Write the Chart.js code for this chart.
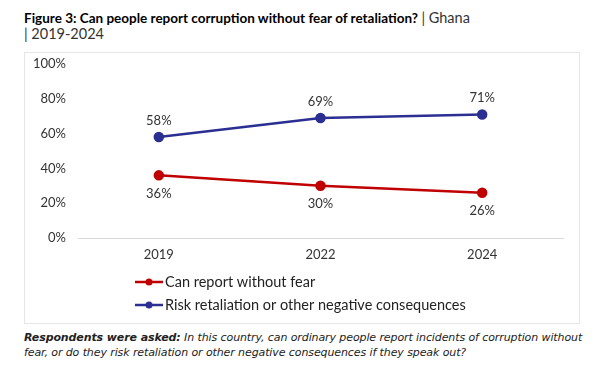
<!DOCTYPE html>
<html lang="en">
<head>
<meta charset="UTF-8">
<title>Figure 3</title>
<script src="https://cdn.jsdelivr.net/npm/chart.js"></script>
<style>
    body{ margin:0; background:#fff; font-family:"Lato", "Liberation Sans", sans-serif; color:#1a1a1a; }
    .title{ position:absolute; left:24px; top:10px; font-size:13.5px; line-height:16px; color:#000; }
    .title b{ font-weight:700; }
    .title span{ color:#333; font-size:14.5px; }
    .box{ position:absolute; left:24px; top:52px; width:554px; height:270px; border:1px solid #e6e6e6; }
    .note{ position:absolute; left:24px; top:330px; font-family:"DejaVu Sans", sans-serif; font-size:11px; line-height:15px; font-style:italic; color:#222; letter-spacing:-0.1px; }
</style>
</head>
<body>
<div class="title"><b>Figure 3: Can people report corruption without fear of retaliation?</b> <span>| Ghana<br>| 2019-2024</span></div>
<div class="box"><canvas id="myChart" width="554" height="270"></canvas></div>
<div class="note"><b>Respondents were asked:</b> In this country, can ordinary people report incidents of corruption without<br>fear, or do they risk retaliation or other negative consequences if they speak out?</div>
<script>
    const years = ['2019', '2022', '2024'];
    const canReport = [36, 30, 26];
    const riskRetaliation = [58, 69, 71];
    const seriesNames = ['Can report without fear', 'Risk retaliation or other negative consequences'];
    const red = '#c00000';
    const blue = '#2b2f92';

    // labels above blue points, below red points
    const valueLabels = {
        id: 'valueLabels',
        afterDatasetsDraw(chart){
            const ctx = chart.ctx;
            ctx.save();
            ctx.font = '13px Lato, sans-serif';
            ctx.fillStyle = '#333';
            ctx.textAlign = 'center';
            chart.data.datasets.forEach((ds, i) => {
                chart.getDatasetMeta(i).data.forEach((pt, j) => {
                    const above = i === 1;
                    ctx.textBaseline = above ? 'bottom' : 'top';
                    ctx.fillText(ds.data[j] + '%', pt.x, above ? pt.y - 10 : pt.y + 12);
                });
            });
            ctx.restore();
        }
    };

    // vertical legend under the x axis
    const lineLegend = {
        id: 'lineLegend',
        afterDraw(chart){
            const ctx = chart.ctx;
            const a = chart.chartArea;
            ctx.save();
            ctx.font = '14.5px Lato, sans-serif';
            ctx.textBaseline = 'middle';
            ctx.textAlign = 'left';
            chart.data.datasets.forEach((ds, i) => {
                const y = a.bottom + 44 + i * 23;
                const x = a.left + 57;
                ctx.strokeStyle = ds.borderColor;
                ctx.lineWidth = 2.5;
                ctx.beginPath();
                ctx.moveTo(x, y);
                ctx.lineTo(x + 28, y);
                ctx.stroke();
                ctx.fillStyle = ds.borderColor;
                ctx.beginPath();
                ctx.arc(x + 14, y, 3.5, 0, Math.PI * 2);
                ctx.fill();
                ctx.fillStyle = '#222';
                ctx.fillText(ds.label, x + 30, y);
            });
            ctx.restore();
        }
    };

    const ctx = document.querySelector('#myChart');
    const myChart = new Chart(ctx, {
        type: 'line',
        data: {
            labels: years,
            datasets: [{
                label: seriesNames[0],
                data: canReport,
                borderColor: red,
                backgroundColor: red,
                borderWidth: 2.5,
                pointRadius: 4,
                pointHoverRadius: 4
            }, {
                label: seriesNames[1],
                data: riskRetaliation,
                borderColor: blue,
                backgroundColor: blue,
                borderWidth: 2.5,
                pointRadius: 4,
                pointHoverRadius: 4
            }]
        },
        options: {
            responsive: false,
            animation: false,
            layout: { padding: { top: 11, right: 16, left: 0, bottom: 0 } },
            plugins: { legend: { display: false }, tooltip: { enabled: false } },
            scales: {
                x: {
                    offset: true,
                    grid: { display: false, drawTicks: false },
                    border: { display: true, color: '#d9d9d9', width: 1 },
                    ticks: { padding: 9, color: '#333', font: { family: 'Lato', size: 13 } },
                    afterFit(s){ s.height = 85; }
                },
                y: {
                    min: 0,
                    max: 100,
                    grid: { display: false, drawTicks: false },
                    border: { display: false },
                    ticks: {
                        stepSize: 20,
                        padding: 12,
                        color: '#333',
                        font: { family: 'Lato', size: 13 },
                        callback: v => v + '%'
                    },
                    afterFit(s){ s.width = 53; s.paddingTop = 0; s.paddingBottom = 0; }
                }
            }
        },
        plugins: [valueLabels, lineLegend]
    });
</script>
</body>
</html>
